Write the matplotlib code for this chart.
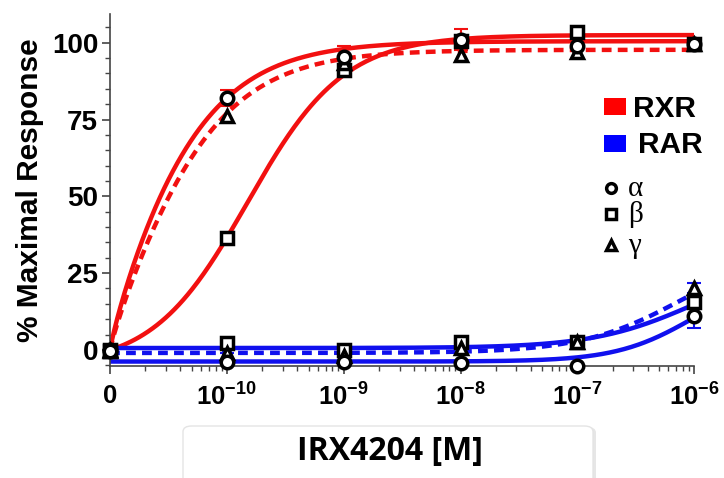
import numpy as np
import matplotlib.pyplot as plt
from matplotlib.lines import Line2D
from matplotlib.patches import Rectangle, FancyBboxPatch

plt.rcParams['font.family'] = ['Liberation Sans', 'DejaVu Sans']
plt.rcParams['mathtext.fontset'] = 'custom'
plt.rcParams['mathtext.bf'] = 'Liberation Sans:bold'
plt.rcParams['mathtext.rm'] = 'Liberation Sans:bold'

# concentrations (M); the "0" dose is drawn at 1e-11
conc = [1e-11, 1e-10, 1e-9, 1e-8, 1e-7, 1e-6]
tick_labels = ['0', r'$\mathbf{10^{-10}}$', r'$\mathbf{10^{-9}}$', r'$\mathbf{10^{-8}}$',
               r'$\mathbf{10^{-7}}$', r'$\mathbf{10^{-6}}$']

# RXR % maximal response
rxr_alpha = [0, 82, 95.5, 101, 99, 99.5]
rxr_beta = [0, 36.5, 91, 100.5, 103.5, 99.5]
rxr_gamma = [0, 76, 93.5, 96, 97, 99.5]
rxr_alpha_err = [0, 2.6, 3.5, 3.5, 0, 0]

# RAR % maximal response
rar_alpha = [-0.5, -3.8, -3.8, -4.2, -5.2, 11]
rar_beta = [-0.5, 2.3, 0, 2.4, 2.7, 15.7]
rar_gamma = [-0.3, -1, -2, 0.6, 2.7, 20.2]
rar_alpha_err = [2, 0, 0, 0, 0, 3.8]
rar_gamma_err = [0, 0, 0, 0, 0, 1.6]

# fitted dose-response parameters: bottom, top, K, hill slope
fit_rxr_alpha = [0, 100.5, 1.72e-11, 0.9]
fit_rxr_beta = [0, 102.5, 1.58e-10, 1.05]
fit_rxr_gamma = [0, 97.7, 2.09e-11, 0.9]
fit_rar_alpha = [-3.8, 24.8, 1e-6, 1.3]
fit_rar_beta = [0.6, 29, 1e-6, 1.0]
fit_rar_gamma = [-1.0, 34, 0.8e-6, 1.0]


def hill(c, p):
    d = c - c[0]
    return p[0] + (p[1] - p[0]) * d ** p[3] / (d ** p[3] + p[2] ** p[3])


red = '#f21010'
blue = '#1010ee'

fig = plt.figure(figsize=(7.24, 4.78), dpi=100)
ax = fig.add_axes([0.152, 0.234, 0.807, 0.737])

xc = np.logspace(-11, -6, 400)
ax.plot(xc, hill(xc, fit_rxr_alpha), color=red, lw=3.2)
ax.plot(xc, hill(xc, fit_rxr_beta), color=red, lw=3.2)
ax.plot(xc, hill(xc, fit_rxr_gamma), color=red, lw=3.2, dashes=(2.2, 1.4))
ax.plot(xc, hill(xc, fit_rar_alpha), color=blue, lw=3.2)
ax.plot(xc, hill(xc, fit_rar_beta), color=blue, lw=3.2)
ax.plot(xc, hill(xc, fit_rar_gamma), color=blue, lw=3.2, dashes=(2.2, 1.4))

ax.errorbar(conc, rxr_alpha, yerr=rxr_alpha_err, fmt='none', ecolor=red, elinewidth=1.5,
            capsize=5, capthick=1.5, clip_on=False)
ax.errorbar(conc, rar_alpha, yerr=rar_alpha_err, fmt='none', ecolor=blue, elinewidth=1.5,
            capsize=5, capthick=1.5, clip_on=False)
ax.errorbar(conc, rar_gamma, yerr=rar_gamma_err, fmt='none', ecolor=blue, elinewidth=1.5,
            capsize=5, capthick=1.5, clip_on=False)

mk = dict(ls='none', mfc='white', mec='black', mew=2.5, ms=9, clip_on=False, zorder=4)
for vals, m in [(rxr_beta, 's'), (rxr_gamma, '^'), (rxr_alpha, 'o'),
                (rar_beta, 's'), (rar_gamma, '^'), (rar_alpha, 'o')]:
    ax.plot(conc, vals, marker=m, **mk)

ax.set_xscale('log')
ax.set_xlim(1e-11, 1e-6)
ax.set_ylim(-5.3, 109.4)
ax.set_xticks(conc)
ax.set_xticklabels(tick_labels)
ax.set_yticks([0, 25, 50, 75, 100])
ax.set_yticks(np.arange(-5, 110, 5), minor=True)
ax.tick_params(axis='y', which='major', labelsize=20, length=5.5, width=1.2, color='#444444', pad=3)
ax.tick_params(axis='x', which='major', labelsize=18.5, length=5.5, width=1.2, color='#444444', pad=7)
ax.tick_params(axis='both', which='minor', length=3.5, width=1, color='#444444')
for lab in ax.get_yticklabels() + ax.get_xticklabels():
    lab.set_fontweight('bold')
for s in ['top', 'right']:
    ax.spines[s].set_visible(False)
for s in ['left', 'bottom']:
    ax.spines[s].set_color('#444444')
    ax.spines[s].set_linewidth(1.2)

ax.set_ylabel('% Maximal Response', fontsize=21.5, fontweight='bold', labelpad=6)

# legend drawn by hand in figure pixels
W, H = 724, 478


def fx(x):
    return x / W


def fy(y):
    return 1 - y / H


fig.add_artist(Rectangle((fx(604), fy(115)), 22 / W, 17 / H, fc='#ff0000', ec='none',
                         transform=fig.transFigure))
fig.add_artist(Rectangle((fx(604), fy(152)), 22 / W, 17 / H, fc='#0000ff', ec='none',
                         transform=fig.transFigure))
fig.text(fx(633), fy(109), 'RXR', fontsize=21.5, fontweight='bold', va='center')
fig.text(fx(638), fy(145), 'RAR', fontsize=21.5, fontweight='bold', va='center')
for y, m, g in [(188, 'o', 'α'), (214, 's', 'β'), (245, '^', 'γ')]:
    fig.add_artist(Line2D([fx(611)], [fy(y)], marker=m, ms=7, mfc='white', mec='black', mew=2.5,
                          transform=fig.transFigure))
    fig.text(fx(628), fy(y + 1), g, fontsize=21, family=['Liberation Serif', 'DejaVu Serif'],
             va='center')

# x-axis title in a rounded box
fig.add_artist(FancyBboxPatch((fx(186), fy(478) - 0.02), 410 / W, 51 / H + 0.02,
                              boxstyle='round,pad=0,rounding_size=0.012', fc='#e6e6e6', ec='none',
                              transform=fig.transFigure))
fig.add_artist(FancyBboxPatch((fx(183), fy(478) - 0.02), 410 / W, 52 / H + 0.02,
                              boxstyle='round,pad=0,rounding_size=0.012', fc='white', ec='#e4e4e4',
                              lw=1, transform=fig.transFigure))
fig.text(fx(390), fy(451), 'IRX4204 [M]', fontsize=23, fontweight='bold', family='Open Sans',
         ha='center', va='center')

fig.savefig('out.png', dpi=100)
